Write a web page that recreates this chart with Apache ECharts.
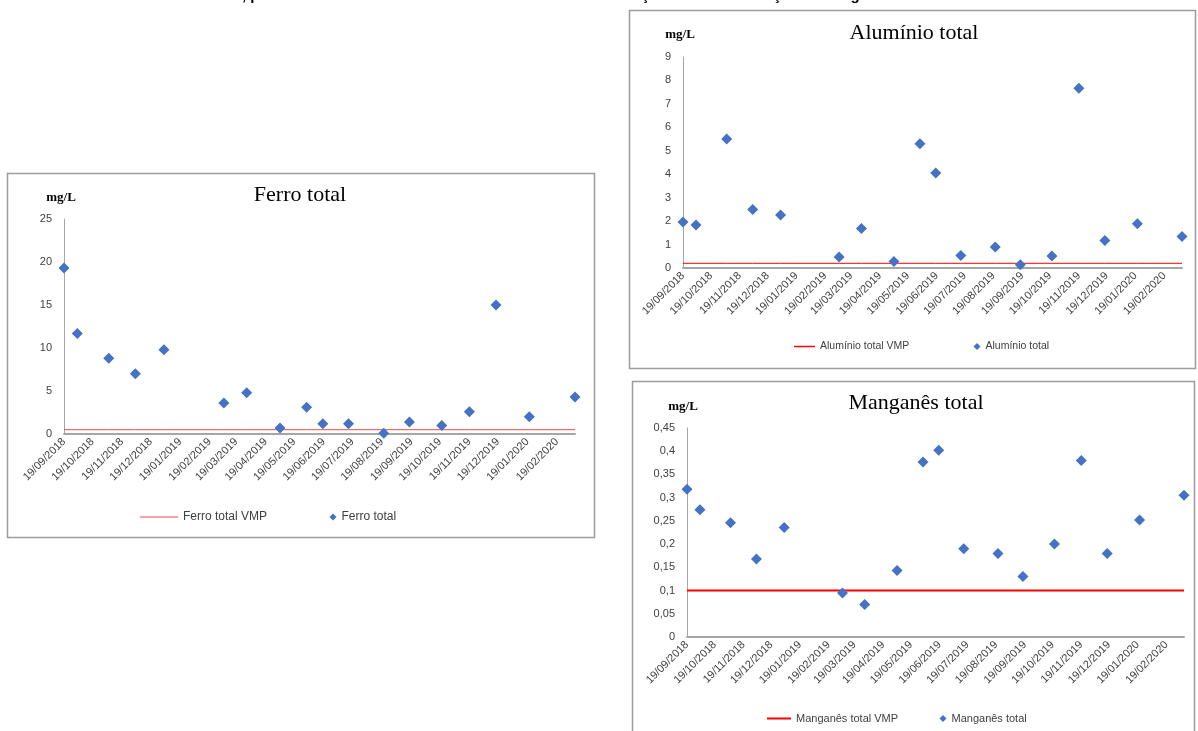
<!DOCTYPE html>
<html>
<head>
<meta charset="utf-8">
<script src="https://cdn.jsdelivr.net/npm/echarts@6/dist/echarts.min.js"></script>
<style>
html,body{margin:0;padding:0;background:#fff;}
#main{width:1198px;height:731px;}
</style>
</head>
<body>
<div id="main"></div>
<script>
// datas de coleta (iguais nos tres graficos)
var sampleDates = ['19/09/2018','03/10/2018','05/11/2018','03/12/2018','02/01/2019','06/03/2019',
  '30/03/2019','04/05/2019','01/06/2019','18/06/2019','15/07/2019','21/08/2019',
  '17/09/2019','21/10/2019','19/11/2019','17/12/2019','21/01/2020','09/03/2020'];

var tickLabels = ['19/09/2018','19/10/2018','19/11/2018','19/12/2018','19/01/2019','19/02/2019',
  '19/03/2019','19/04/2019','19/05/2019','19/06/2019','19/07/2019','19/08/2019',
  '19/09/2019','19/10/2019','19/11/2019','19/12/2019','19/01/2020','19/02/2020'];

var ferroTotal = [19.3, 11.7, 8.8, 7.0, 9.8, 3.6, 4.8, 0.7, 3.1, 1.2, 1.2, 0.1, 1.4, 1.0, 2.6, 15.0, 2.0, 4.3];
var aluminioTotal = [1.96, 1.83, 5.5, 2.5, 2.26, 0.47, 1.69, 0.28, 5.3, 4.05, 0.53, 0.9, 0.14, 0.51, 7.67, 1.17, 1.89, 1.34];
var manganesTotal = [0.318, 0.274, 0.246, 0.168, 0.236, 0.095, 0.070, 0.143, 0.377, 0.402, 0.190, 0.180, 0.130, 0.200, 0.380, 0.180, 0.252, 0.305];

var ferroVMP = 0.5;
var aluminioVMP = 0.2;
var manganesVMP = 0.1;

// dias contados a partir de 19/09/2018
function toDay(s){
  var p = s.split('/');
  return (Date.UTC(+p[2], +p[1] - 1, +p[0]) - Date.UTC(2018, 8, 19)) / 86400000;
}

var sampleDays = sampleDates.map(toDay);
var tickDays = tickLabels.map(toDay);

function tickFormatter(v){
  var i = tickDays.indexOf(Math.round(v));
  return i >= 0 ? tickLabels[i] : '';
}

var dom = document.getElementById("main");
var myChart = echarts.init(dom);
var option = null;

var blue = '#4472c4';
var axisGray = '#a6a6a6';
var labelGray = '#404040';
var fontSans = '"Liberation Sans", Arial, sans-serif';
var fontSerif = '"Liberation Serif", "Times New Roman", serif';

function xAxisFor(g){
  return {
    type: 'value', gridIndex: g,
    min: sampleDays[0], max: sampleDays[sampleDays.length - 1],
    axisLine: {show: true, onZero: false, lineStyle: {color: axisGray, width: 2}},
    axisTick: {show: false},
    splitLine: {show: false},
    axisLabel: {
      customValues: tickDays, formatter: tickFormatter,
      rotate: 45, color: labelGray, fontSize: 11, fontFamily: fontSans,
      margin: 6, hideOverlap: false
    }
  };
}

function yAxisFor(g, max, interval, fmt){
  return {
    type: 'value', gridIndex: g, min: 0, max: max, interval: interval,
    axisLine: {show: true, lineStyle: {color: axisGray, width: 1}},
    axisTick: {show: false},
    splitLine: {show: false},
    axisLabel: {color: labelGray, fontSize: 11, fontFamily: fontSans, margin: 12, formatter: fmt}
  };
}

function vmpSeries(name, g, vmp, color, width){
  return {
    name: name, type: 'line', xAxisIndex: g, yAxisIndex: g,
    data: sampleDays.map(function(t){ return [t, vmp]; }),
    symbol: 'none', silent: true, z: 1,
    lineStyle: {color: color, width: width},
    itemStyle: {color: color}
  };
}

function pointSeries(name, g, values){
  return {
    name: name, type: 'scatter', xAxisIndex: g, yAxisIndex: g,
    data: sampleDays.map(function(t, i){ return [t, values[i]]; }),
    symbol: 'diamond', symbolSize: 11, z: 3,
    itemStyle: {color: blue, opacity: 1}
  };
}

function legendLine(name, left, cy, w, h, fs){
  return {
    data: [{name: name, icon: 'rect'}], left: left, top: cy - 7, padding: 0,
    itemWidth: w, itemHeight: h, selectedMode: false,
    textStyle: {color: '#404040', fontSize: fs, fontFamily: fontSans}
  };
}

function legendDot(name, cx, cy, fs){
  return {
    data: [{name: name, icon: 'diamond'}], left: cx - 3.5, top: cy - 7, padding: 0,
    itemWidth: 7, itemHeight: 7, selectedMode: false,
    itemStyle: {opacity: 1},
    textStyle: {color: '#404040', fontSize: fs, fontFamily: fontSans}
  };
}

function txt(text, x, y, size, weight, family){
  return {
    type: 'text', x: x, y: y, silent: true,
    style: {text: text, align: 'center', verticalAlign: 'middle',
      fontSize: size, fontWeight: weight, fontFamily: family, fill: '#000'}
  };
}

function box(x, y, w, h){
  return {
    type: 'rect', silent: true,
    shape: {x: x, y: y, width: w, height: h},
    style: {fill: 'none', stroke: '#9c9c9c', lineWidth: 1.5}
  };
}

var mnFmt = function(v){ return String(+v.toFixed(2)).replace('.', ','); };

option = {
  animation: false,
  grid: [
    {left: 64, top: 219, width: 511, height: 215},
    {left: 683, top: 57, width: 499, height: 211},
    {left: 687, top: 428, width: 497, height: 209}
  ],
  xAxis: [xAxisFor(0), xAxisFor(1), xAxisFor(2)],
  yAxis: [
    yAxisFor(0, 25, 5),
    yAxisFor(1, 9, 1),
    yAxisFor(2, 0.45, 0.05, mnFmt)
  ],
  legend: [
    legendLine('Ferro total VMP', 140, 518, 38, 1, 12),
    legendDot('Ferro total', 333, 518, 12),
    legendLine('Alumínio total VMP', 794, 348, 21, 1.5, 10.5),
    legendDot('Alumínio total', 977, 348, 10.5),
    legendLine('Manganês total VMP', 767, 720, 24, 2, 11),
    legendDot('Manganês total', 943, 720, 11)
  ],
  graphic: [
    box(7.5, 173.5, 587, 364),
    box(629.5, 10.5, 566, 358),
    box(632.5, 381.5, 562, 360),
    {
      type: 'text', x: 232, y: 3, silent: true,
      style: {text: 'S, período de setembro de 2018 a fevereiro de 2020: variação das concentrações em mg/L',
        align: 'left', verticalAlign: 'bottom', fontSize: 15, fontWeight: 'bold', fontFamily: fontSans, fill: '#000'}
    },
    txt('Ferro total', 300, 195, 22, 'normal', fontSerif),
    txt('Alumínio total', 914, 33, 22, 'normal', fontSerif),
    txt('Manganês total', 916, 403, 22, 'normal', fontSerif),
    txt('mg/L', 61, 198, 13, 'bold', fontSerif),
    txt('mg/L', 680, 35, 13, 'bold', fontSerif),
    txt('mg/L', 683, 407, 13, 'bold', fontSerif)
  ],
  series: [
    vmpSeries('Ferro total VMP', 0, ferroVMP, '#ec4b4b', 1),
    pointSeries('Ferro total', 0, ferroTotal),
    vmpSeries('Alumínio total VMP', 1, aluminioVMP, '#ff0000', 1),
    pointSeries('Alumínio total', 1, aluminioTotal),
    vmpSeries('Manganês total VMP', 2, manganesVMP, '#ff0000', 2),
    pointSeries('Manganês total', 2, manganesTotal)
  ]
};

// Invoke
if (option && typeof option === "object") {
    myChart.setOption(option, true);
}
</script>
</body>
</html>
